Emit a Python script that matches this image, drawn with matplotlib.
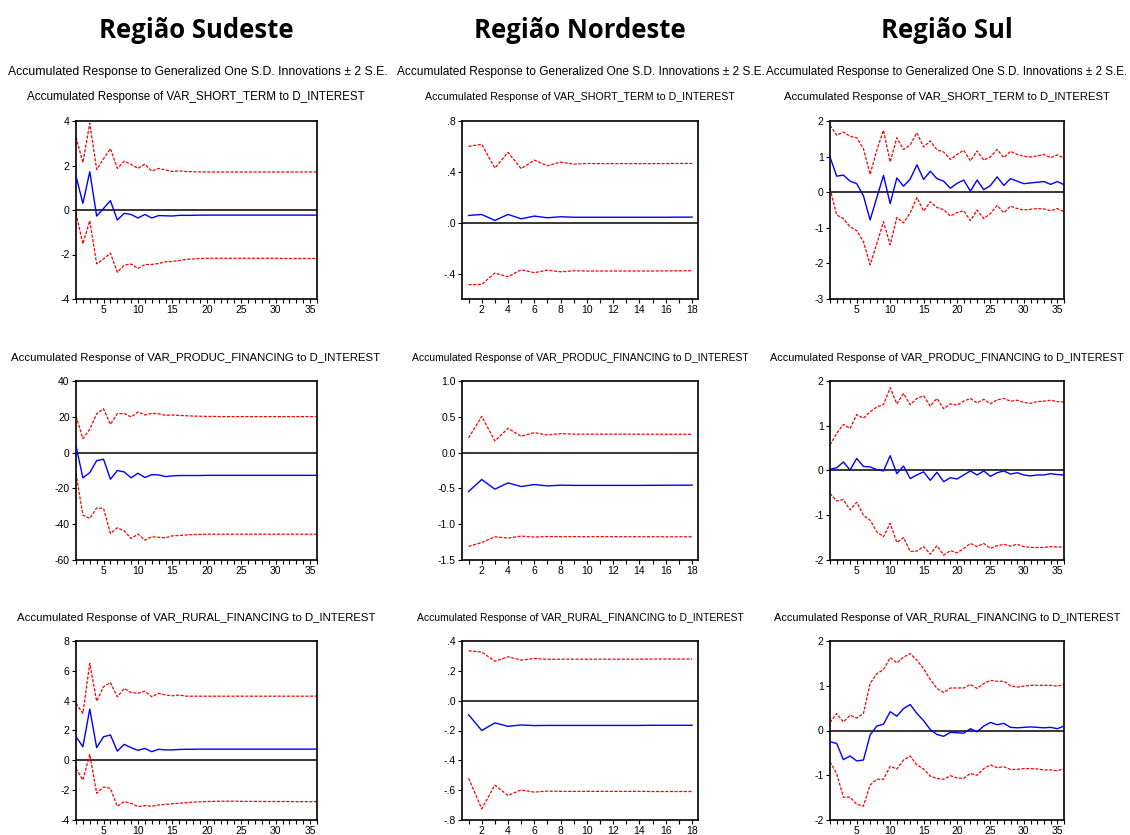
import matplotlib
matplotlib.use("Agg")
import matplotlib.pyplot as plt
from matplotlib.ticker import MultipleLocator, FixedLocator

# ---- data ----
periods_long = list(range(1, 37))
periods_short = list(range(1, 19))

# Sudeste (36 periods)
se_short_resp = [1.52, 0.30, 1.72, -0.27, 0.07, 0.42, -0.45, -0.15, -0.20, -0.36, -0.20, -0.36,
                 -0.25, -0.26, -0.27, -0.24, -0.24, -0.24, -0.23, -0.23, -0.23, -0.23, -0.23, -0.23,
                 -0.23, -0.23, -0.23, -0.23, -0.23, -0.23, -0.23, -0.23, -0.23, -0.23, -0.23, -0.23]
se_short_up = [3.28, 2.13, 3.90, 1.82, 2.30, 2.76, 1.87, 2.19, 2.05, 1.87, 2.06, 1.75,
               1.87, 1.80, 1.73, 1.76, 1.73, 1.72, 1.71, 1.71, 1.71, 1.71, 1.71, 1.71,
               1.71, 1.71, 1.71, 1.71, 1.71, 1.71, 1.71, 1.71, 1.71, 1.71, 1.71, 1.71]
se_short_lo = [-0.15, -1.52, -0.48, -2.42, -2.20, -1.94, -2.80, -2.48, -2.43, -2.63, -2.45, -2.45,
               -2.40, -2.33, -2.31, -2.27, -2.22, -2.20, -2.18, -2.17, -2.17, -2.17, -2.17, -2.17,
               -2.17, -2.17, -2.17, -2.17, -2.17, -2.17, -2.18, -2.18, -2.18, -2.18, -2.18, -2.18]

se_prod_resp = [3.7, -14.1, -11.2, -4.5, -3.7, -14.9, -10.0, -10.8, -14.1, -11.5, -13.9, -12.3,
                -12.5, -13.4, -13.0, -12.8, -12.8, -12.8, -12.8, -12.7, -12.7, -12.7, -12.7, -12.7,
                -12.7, -12.7, -12.7, -12.7, -12.7, -12.7, -12.7, -12.7, -12.7, -12.7, -12.7, -12.7]
se_prod_up = [20.4, 7.8, 13.0, 21.7, 24.5, 15.8, 21.7, 21.9, 19.9, 22.7, 21.0, 21.9,
              21.7, 20.8, 21.0, 20.8, 20.6, 20.4, 20.3, 20.2, 20.2, 20.1, 20.1, 20.1,
              20.1, 20.1, 20.1, 20.1, 20.1, 20.1, 20.1, 20.1, 20.1, 20.1, 20.1, 20.1]
se_prod_lo = [-11.7, -34.9, -36.8, -30.9, -31.2, -45.2, -42.0, -43.7, -48.0, -45.5, -48.9, -47.0,
              -47.3, -47.6, -46.5, -46.3, -46.0, -45.8, -45.7, -45.6, -45.6, -45.6, -45.6, -45.6,
              -45.6, -45.6, -45.6, -45.6, -45.6, -45.6, -45.6, -45.6, -45.6, -45.6, -45.6, -45.6]

se_rural_resp = [1.58, 0.91, 3.44, 0.85, 1.58, 1.70, 0.62, 1.07, 0.85, 0.67, 0.80, 0.58,
                 0.74, 0.70, 0.70, 0.73, 0.74, 0.74, 0.75, 0.75, 0.75, 0.75, 0.75, 0.75,
                 0.75, 0.75, 0.75, 0.75, 0.75, 0.75, 0.75, 0.75, 0.75, 0.75, 0.75, 0.76]
se_rural_up = [3.82, 3.15, 6.50, 3.97, 4.93, 5.22, 4.26, 4.82, 4.55, 4.49, 4.64, 4.26,
               4.49, 4.38, 4.33, 4.38, 4.30, 4.30, 4.30, 4.30, 4.30, 4.30, 4.30, 4.30,
               4.30, 4.30, 4.30, 4.30, 4.30, 4.30, 4.30, 4.30, 4.30, 4.30, 4.30, 4.31]
se_rural_lo = [-0.54, -1.32, 0.40, -2.21, -1.79, -1.88, -3.08, -2.77, -2.88, -3.10, -3.04, -3.08,
               -2.99, -2.95, -2.91, -2.87, -2.84, -2.80, -2.78, -2.76, -2.75, -2.74, -2.74, -2.74,
               -2.75, -2.75, -2.75, -2.76, -2.76, -2.76, -2.76, -2.76, -2.77, -2.77, -2.77, -2.77]

# Nordeste (18 periods)
ne_short_resp = [0.057, 0.065, 0.018, 0.065, 0.031, 0.052, 0.039, 0.047, 0.043,
                 0.043, 0.043, 0.043, 0.043, 0.043, 0.043, 0.043, 0.044, 0.044]
ne_short_up = [0.600, 0.617, 0.430, 0.553, 0.425, 0.492, 0.448, 0.477, 0.461,
               0.466, 0.465, 0.465, 0.465, 0.465, 0.465, 0.465, 0.466, 0.466]
ne_short_lo = [-0.487, -0.485, -0.396, -0.425, -0.370, -0.393, -0.373, -0.386, -0.378,
               -0.380, -0.380, -0.380, -0.380, -0.380, -0.380, -0.379, -0.378, -0.378]

ne_prod_resp = [-0.544, -0.376, -0.511, -0.423, -0.474, -0.446, -0.465, -0.455, -0.458,
                -0.458, -0.458, -0.458, -0.458, -0.458, -0.457, -0.456, -0.455, -0.455]
ne_prod_up = [0.204, 0.507, 0.163, 0.339, 0.228, 0.279, 0.246, 0.265, 0.258,
              0.258, 0.258, 0.258, 0.258, 0.257, 0.257, 0.256, 0.256, 0.256]
ne_prod_lo = [-1.310, -1.255, -1.176, -1.194, -1.166, -1.180, -1.172, -1.174, -1.174,
              -1.174, -1.174, -1.174, -1.175, -1.175, -1.175, -1.176, -1.176, -1.176]

ne_rural_resp = [-0.094, -0.200, -0.149, -0.172, -0.163, -0.167, -0.166, -0.166, -0.166,
                 -0.166, -0.166, -0.166, -0.166, -0.166, -0.165, -0.165, -0.165, -0.165]
ne_rural_up = [0.334, 0.326, 0.265, 0.294, 0.272, 0.283, 0.277, 0.278, 0.278,
               0.278, 0.278, 0.278, 0.278, 0.278, 0.279, 0.279, 0.279, 0.279]
ne_rural_lo = [-0.520, -0.725, -0.566, -0.636, -0.598, -0.613, -0.606, -0.608, -0.608,
               -0.608, -0.608, -0.608, -0.608, -0.608, -0.609, -0.609, -0.609, -0.609]

# Sul (36 periods)
s_short_resp = [0.99, 0.45, 0.48, 0.31, 0.24, -0.10, -0.78, -0.15, 0.47, -0.32, 0.40, 0.17,
                0.37, 0.77, 0.36, 0.59, 0.38, 0.31, 0.11, 0.25, 0.34, 0.03, 0.34, 0.07,
                0.19, 0.43, 0.19, 0.38, 0.31, 0.24, 0.26, 0.28, 0.30, 0.22, 0.30, 0.21]
s_short_up = [1.88, 1.60, 1.69, 1.57, 1.53, 1.22, 0.50, 1.18, 1.74, 0.85, 1.53, 1.20,
              1.33, 1.67, 1.27, 1.44, 1.19, 1.13, 0.92, 1.06, 1.18, 0.88, 1.16, 0.90,
              0.99, 1.20, 0.97, 1.15, 1.06, 1.01, 0.99, 1.02, 1.06, 0.97, 1.05, 0.96]
s_short_lo = [0.10, -0.64, -0.74, -0.97, -1.08, -1.39, -2.04, -1.45, -0.83, -1.48, -0.71, -0.86,
              -0.58, -0.15, -0.53, -0.27, -0.43, -0.49, -0.67, -0.57, -0.52, -0.80, -0.50, -0.74,
              -0.60, -0.37, -0.58, -0.39, -0.46, -0.50, -0.48, -0.46, -0.47, -0.52, -0.46, -0.55]

s_prod_resp = [0.03, 0.06, 0.19, 0.01, 0.27, 0.09, 0.08, 0.02, -0.01, 0.33, -0.07, 0.10,
               -0.18, -0.10, -0.03, -0.22, -0.04, -0.25, -0.16, -0.19, -0.10, -0.01, -0.10, -0.01,
               -0.13, -0.05, -0.01, -0.08, -0.05, -0.10, -0.12, -0.10, -0.10, -0.07, -0.09, -0.10]
s_prod_up = [0.57, 0.83, 1.03, 0.94, 1.25, 1.17, 1.31, 1.42, 1.47, 1.85, 1.49, 1.72,
             1.47, 1.61, 1.67, 1.44, 1.61, 1.38, 1.49, 1.46, 1.55, 1.61, 1.51, 1.59,
             1.49, 1.58, 1.61, 1.55, 1.57, 1.52, 1.50, 1.54, 1.55, 1.57, 1.54, 1.53]
s_prod_lo = [-0.51, -0.68, -0.65, -0.88, -0.71, -1.00, -1.11, -1.37, -1.48, -1.18, -1.61, -1.50,
             -1.81, -1.80, -1.70, -1.87, -1.68, -1.89, -1.79, -1.84, -1.74, -1.63, -1.70, -1.63,
             -1.74, -1.68, -1.65, -1.69, -1.65, -1.70, -1.72, -1.72, -1.72, -1.70, -1.71, -1.71]

s_rural_resp = [-0.25, -0.29, -0.65, -0.57, -0.68, -0.66, -0.10, 0.10, 0.14, 0.42, 0.32, 0.49,
                0.58, 0.38, 0.22, 0.02, -0.09, -0.13, -0.04, -0.05, -0.06, 0.04, -0.03, 0.10,
                0.18, 0.13, 0.16, 0.07, 0.06, 0.07, 0.08, 0.07, 0.06, 0.07, 0.04, 0.10]
s_rural_up = [0.18, 0.38, 0.19, 0.34, 0.28, 0.38, 1.05, 1.27, 1.36, 1.63, 1.51, 1.64,
              1.72, 1.57, 1.38, 1.14, 0.94, 0.85, 0.95, 0.95, 0.95, 1.03, 0.94, 1.05,
              1.12, 1.10, 1.10, 1.00, 0.97, 0.99, 1.01, 1.01, 1.01, 1.01, 0.99, 1.03]
s_rural_lo = [-0.70, -0.96, -1.49, -1.49, -1.65, -1.69, -1.22, -1.09, -1.09, -0.80, -0.86, -0.66,
              -0.57, -0.77, -0.86, -1.02, -1.07, -1.09, -1.01, -1.06, -1.07, -0.96, -1.00, -0.85,
              -0.77, -0.83, -0.81, -0.87, -0.87, -0.85, -0.85, -0.86, -0.88, -0.88, -0.90, -0.85]

regions = ["Região Sudeste", "Região Nordeste", "Região Sul"]
panel_titles = ["Accumulated Response of VAR_SHORT_TERM to D_INTEREST",
                "Accumulated Response of VAR_PRODUC_FINANCING to D_INTEREST",
                "Accumulated Response of VAR_RURAL_FINANCING to D_INTEREST"]
overall_title = "Accumulated Response to Generalized One S.D. Innovations \u00b1 2 S.E."

series = [
    [(se_short_resp, se_short_up, se_short_lo),
     (se_prod_resp, se_prod_up, se_prod_lo),
     (se_rural_resp, se_rural_up, se_rural_lo)],
    [(ne_short_resp, ne_short_up, ne_short_lo),
     (ne_prod_resp, ne_prod_up, ne_prod_lo),
     (ne_rural_resp, ne_rural_up, ne_rural_lo)],
    [(s_short_resp, s_short_up, s_short_lo),
     (s_prod_resp, s_prod_up, s_prod_lo),
     (s_rural_resp, s_rural_up, s_rural_lo)],
]

# y axis ticks and labels per panel [column][row]
y_ticks = [
    [[-4, -2, 0, 2, 4], [-60, -40, -20, 0, 20, 40], [-4, -2, 0, 2, 4, 6, 8]],
    [[-0.4, 0.0, 0.4, 0.8], [-1.5, -1.0, -0.5, 0.0, 0.5, 1.0], [-0.8, -0.6, -0.4, -0.2, 0.0, 0.2, 0.4]],
    [[-3, -2, -1, 0, 1, 2], [-2, -1, 0, 1, 2], [-2, -1, 0, 1, 2]],
]
y_labels = [
    [["-4", "-2", "0", "2", "4"], ["-60", "-40", "-20", "0", "20", "40"], ["-4", "-2", "0", "2", "4", "6", "8"]],
    [["-.4", ".0", ".4", ".8"], ["-1.5", "-1.0", "-0.5", "0.0", "0.5", "1.0"], ["-.8", "-.6", "-.4", "-.2", ".0", ".2", ".4"]],
    [["-3", "-2", "-1", "0", "1", "2"], ["-2", "-1", "0", "1", "2"], ["-2", "-1", "0", "1", "2"]],
]
y_limits = [
    [(-4, 4), (-60, 40), (-4, 8)],
    [(-0.6, 0.8), (-1.5, 1.0), (-0.8, 0.4)],
    [(-3, 2), (-2, 2), (-2, 2)],
]

fig = plt.figure(figsize=(11.3, 8.35), dpi=100)
W, H = 1130.0, 835.0
renderer = fig.canvas.get_renderer()


def fit_text(x, y, s, width, size, **kw):
    # place text and shrink/grow it so it spans about `width` pixels, like the EViews export
    t = fig.text(x / W, 1 - y / H, s, ha="center", va="center", fontsize=size, **kw)
    w = t.get_window_extent(renderer).width
    t.set_fontsize(size * width / w)
    return t


col_px = [(76, 317), (462, 698), (830, 1064)]
row_px = [(121, 299), (381, 560), (641, 820)]
col_center = [196, 580, 947]
title_y = [97, 358, 618]
title_w = [[335, 369, 358], [305, 338, 328], [325, 354, 348]]
overall_w = [380, 367, 362]
overall_x = [198, 581, 947]

for c in range(3):
    fig.text(col_center[c] / W, 1 - 30 / H, regions[c], ha="center", va="center",
             fontsize=18.5, fontweight="bold", family="Open Sans")
    fit_text(overall_x[c], 72, overall_title, overall_w[c], 9, family="Liberation Sans")
    for r in range(3):
        x0, x1 = col_px[c]
        y0, y1 = row_px[r]
        ax = fig.add_axes([x0 / W, 1 - y1 / H, (x1 - x0) / W, (y1 - y0) / H])
        resp, up, lo = series[c][r]
        xs = periods_short if c == 1 else periods_long
        ax.axhline(0, color="black", lw=1.1, zorder=1)
        ax.plot(xs, up, color="#ff0000", lw=0.9, dashes=(2.5, 1.2), zorder=2)
        ax.plot(xs, lo, color="#ff0000", lw=0.9, dashes=(2.5, 1.2), zorder=2)
        ax.plot(xs, resp, color="#0000ff", lw=1.0, zorder=3)
        ax.set_ylim(*y_limits[c][r])
        ax.set_yticks(y_ticks[c][r])
        ax.set_yticklabels(y_labels[c][r])
        if c == 1:
            ax.set_xlim(0.5, 18.45)
            ax.xaxis.set_major_locator(FixedLocator(list(range(2, 19, 2))))
        else:
            ax.set_xlim(1, 36)
            ax.xaxis.set_major_locator(FixedLocator(list(range(5, 36, 5))))
        ax.xaxis.set_minor_locator(MultipleLocator(1))
        ax.tick_params(axis="both", which="both", direction="out", labelsize=7.5,
                       length=3, width=0.8, pad=1.5, top=False, right=False)
        for lab in ax.get_xticklabels() + ax.get_yticklabels():
            lab.set_family("Liberation Sans")
        for s in ax.spines.values():
            s.set_linewidth(1.2)
        fit_text(col_center[c], title_y[r], panel_titles[r], title_w[c][r], 8.5,
                 family="Liberation Sans")

fig.savefig("out.png", dpi=100)
